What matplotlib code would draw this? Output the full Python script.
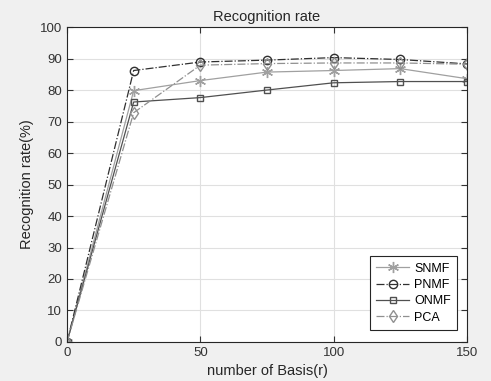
import matplotlib.pyplot as plt

basis = [0, 25, 50, 75, 100, 125, 150]
snmf = [0, 79.8, 83.0, 85.7, 86.2, 86.8, 83.6]
pnmf = [0, 86.2, 88.9, 89.5, 90.3, 89.7, 88.3]
onmf = [0, 76.2, 77.6, 80.0, 82.3, 82.7, 82.7]
pca = [0, 72.8, 87.9, 88.4, 88.6, 88.6, 88.2]

plt.rcParams['font.family'] = ['Liberation Sans', 'DejaVu Sans']

fig = plt.figure(figsize=(4.91, 3.81), dpi=100, facecolor='#f0f0f0')
ax = fig.add_axes([0.1365, 0.1024, 0.8145, 0.8266])

# asterisk marker like matlab '*'
ax.plot(basis, snmf, color='#a0a0a0', linestyle='-', marker=(6, 2, 0), markersize=8,
        linewidth=0.9, label='SNMF')
ax.plot(basis, pnmf, color='#303030', linestyle='-.', marker='o', markersize=6,
        markerfacecolor='none', linewidth=0.9, label='PNMF')
ax.plot(basis, onmf, color='#505050', linestyle='-', marker='s', markersize=5,
        markerfacecolor='none', linewidth=0.9, label='ONMF')
ax.plot(basis, pca, color='#909090', linestyle='-.', marker='d', markersize=6,
        markerfacecolor='none', linewidth=0.9, label='PCA')

ax.set_xlim(0, 150)
ax.set_ylim(0, 100)
ax.set_xticks([0, 50, 100, 150])
ax.set_yticks(range(0, 101, 10))
ax.grid(True, color='#e0e0e0', linewidth=0.8)
ax.set_axisbelow(True)
ax.tick_params(direction='in', top=True, right=True, labelsize=9.5,
               colors='#333333', length=4)
for s in ax.spines.values():
    s.set_color('#262626')
    s.set_linewidth(0.8)

ax.set_title('Recognition rate', fontsize=10.5, color='#262626', pad=4)
ax.set_xlabel('number of Basis(r)', fontsize=10.5, color='#262626')
ax.set_ylabel('Recognition rate(%)', fontsize=10.5, color='#262626')

leg = ax.legend(loc='lower right', fontsize=9, fancybox=False, edgecolor='#262626',
                framealpha=1, handlelength=2.6, handletextpad=0.4, borderpad=0.5,
                labelspacing=0.35, borderaxespad=0,
                bbox_to_anchor=(0.975, 0.038))
leg.get_frame().set_linewidth(0.8)

fig.savefig('out.png', dpi=100, facecolor=fig.get_facecolor())
